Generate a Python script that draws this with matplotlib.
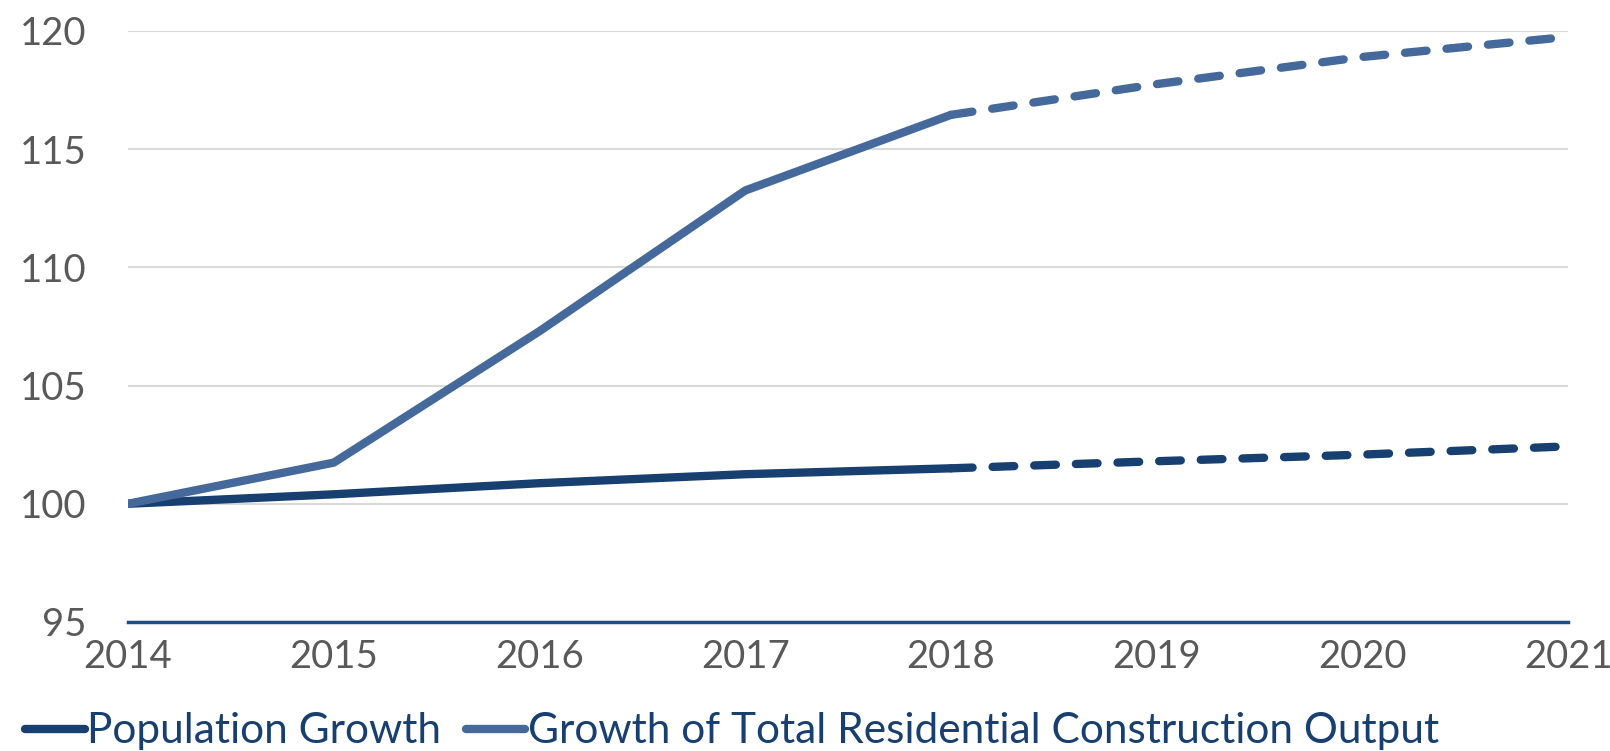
import numpy as np
import matplotlib.pyplot as plt

plt.rcParams['font.family'] = ['Lato', 'DejaVu Sans']

years = [2014, 2015, 2016, 2017, 2018, 2019, 2020, 2021]
population = [100, 100.4, 100.87, 101.25, 101.5, 101.8, 102.08, 102.43]
construction = [100, 101.74, 107.3, 113.25, 116.45, 117.75, 118.9, 119.75]
n_actual = 5  # 2014-2018 actual, rest forecast
labels = ['Population Growth', 'Growth of Total Residential Construction Output']

pop_color = '#173F6F'
con_color = '#44699A'

fig = plt.figure(figsize=(16.1, 7.51), dpi=100)
ax = fig.add_axes([0.0795, 0.1718, 0.8945, 0.787])

for vals, c, lab in [(population, pop_color, labels[0]), (construction, con_color, labels[1])]:
    ax.plot(years[:n_actual], vals[:n_actual], color=c, lw=6, solid_capstyle='round',
            solid_joinstyle='round', label=lab)
    ax.plot(years[n_actual - 1:], vals[n_actual - 1:], color=c, lw=6, dashes=(2.6, 2.4),
            dash_capstyle='round')

ax.set_xlim(2014, 2021)
ax.set_ylim(95, 120)
ax.set_yticks([95, 100, 105, 110, 115, 120])
ax.set_xticks(years)
ax.grid(axis='y', color='#D9D9D9', lw=1.5)
ax.set_axisbelow(True)
for s in ['top', 'right', 'left']:
    ax.spines[s].set_visible(False)
ax.spines['bottom'].set_color('#1F4E85')
ax.spines['bottom'].set_linewidth(2.5)
ax.tick_params(length=0, labelsize=27.5, colors='#595959')
ax.tick_params(axis='y', pad=30)
ax.tick_params(axis='x', pad=12)

fig.legend(loc='lower left', bbox_to_anchor=(-0.008, -0.05), ncol=2, frameon=False,
           fontsize=30.5, handlelength=1.4, handletextpad=0.05, columnspacing=0.6,
           labelcolor=pop_color)

fig.savefig('out.png', dpi=100, facecolor='white')
